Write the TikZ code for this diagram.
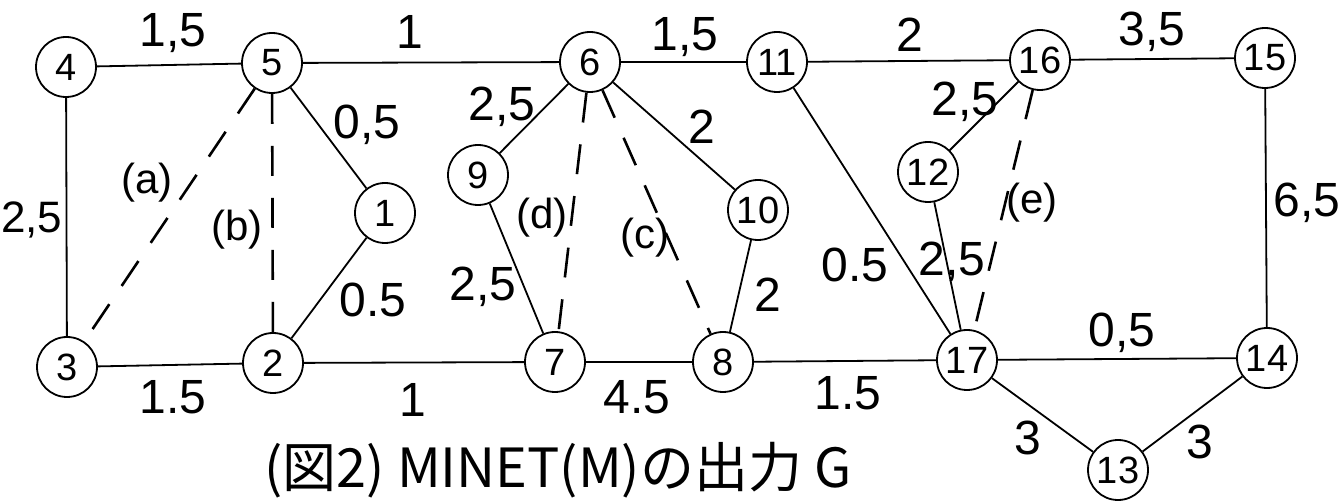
\documentclass[tikz,border=0pt]{standalone}
\usepackage{fontspec}
\setmainfont{Liberation Sans}
\newfontfamily\jpfont{Noto Sans CJK JP}
\begin{document}
\begin{tikzpicture}[x=1pt,y=-1pt,
  vtx/.style={draw, circle, line width=1.8pt, minimum size=60pt, inner sep=0pt, font=\fontsize{38}{38}\selectfont},
  edge/.style={line width=1.8pt},
  dedge/.style={line width=2.6pt, dash pattern=on 30pt off 22pt},
  wt/.style={inner sep=0pt, font=\fontsize{48}{48}\selectfont},
  lbl/.style={inner sep=0pt, font=\fontsize{42}{42}\selectfont},
]
\useasboundingbox (0,0) rectangle (1344,502);
% vertices
\node[vtx] (n1) at (385,213) {1};
\node[vtx] (n2) at (273,363) {2};
\node[vtx] (n3) at (67,367) {3};
\node[vtx] (n4) at (66,67) {4};
\node[vtx] (n5) at (272,63) {5};
\node[vtx] (n6) at (590,62) {6};
\node[vtx] (n7) at (555,362) {7};
\node[vtx] (n8) at (723,362) {8};
\node[vtx] (n9) at (478,175) {9};
\node[vtx] (n10) at (758,210) {10};
\node[vtx] (n11) at (777,62) {11};
\node[vtx] (n12) at (928,172) {12};
\node[vtx] (n13) at (1118,470) {13};
\node[vtx] (n14) at (1267,358) {14};
\node[vtx] (n15) at (1265,58) {15};
\node[vtx] (n16) at (1040,60) {16};
\node[vtx] (n17) at (967,360) {17};
% solid edges
\draw[edge] (n4) -- (n5);
\draw[edge] (n5) -- (n6);
\draw[edge] (n6) -- (n11);
\draw[edge] (n11) -- (n16);
\draw[edge] (n16) -- (n15);
\draw[edge] (n4) -- (n3);
\draw[edge] (n5) -- (n1);
\draw[edge] (n1) -- (n2);
\draw[edge] (n3) -- (n2);
\draw[edge] (n2) -- (n7);
\draw[edge] (n7) -- (n8);
\draw[edge] (n8) -- (n17);
\draw[edge] (n6) -- (n9);
\draw[edge] (n9) -- (n7);
\draw[edge] (n6) -- (n10);
\draw[edge] (n10) -- (n8);
\draw[edge] (n11) -- (n17);
\draw[edge] (n16) -- (n12);
\draw[edge] (n12) -- (n17);
\draw[edge] (n15) -- (n14);
\draw[edge] (n17) -- (n14);
\draw[edge] (n17) -- (n13);
\draw[edge] (n13) -- (n14);
% dashed edges
\draw[dedge] (n5) -- (n3);
\draw[dedge] (n5) -- (n2);
\draw[dedge] (n6) -- (n7);
\draw[dedge] (n6) -- (n8);
\draw[dedge] (n16) -- (n17);
% weights
\node[wt] (w45) at (173,33) {1,5};
\node[wt] (w56) at (410,32) {1};
\node[wt] (w611) at (685,37) {1,5};
\node[wt] (w1116) at (910,35) {2};
\node[wt] (w1615) at (1152,32) {3,5};
\node[wt, anchor=west, font=\fontsize{44}{44}\selectfont] (w43) at (1,220) {2,5};
\node[wt] (w51) at (367,125) {0,5};
\node[wt] (w12) at (373,300) {0.5};
\node[wt] (w32) at (173,397) {1.5};
\node[wt] (w27) at (413,400) {1};
\node[wt] (w69) at (502,107) {2,5};
\node[wt] (w610) at (702,127) {2};
\node[wt] (w97) at (483,287) {2,5};
\node[wt] (w108) at (768,295) {2};
\node[wt] (w78) at (637,397) {4.5};
\node[wt] (w817) at (848,393) {1.5};
\node[wt] (w1117) at (855,265) {0.5};
\node[wt] (w1217) at (952,262) {2,5};
\node[wt] (w1612) at (965,102) {2,5};
\node[wt] (w1514) at (1307,203) {6,5};
\node[wt] (w1714) at (1122,333) {0,5};
\node[wt] (w1713) at (1028,438) {3};
\node[wt] (w1314) at (1200,442) {3};
% dashed-edge labels
\node[lbl] (la) at (147,183) {(a)};
\node[lbl] (lb) at (237,230) {(b)};
\node[lbl] (ld) at (542,218) {(d)};
\node[lbl] (lc) at (645,238) {(c)};
\node[lbl] (le) at (1032,203) {(e)};
% caption
\node[inner sep=0pt, font=\jpfont\fontsize{54}{54}\selectfont] (cap) at (558,470) {(図2) MINET(M)の出力 G};
\end{tikzpicture}
\end{document}
